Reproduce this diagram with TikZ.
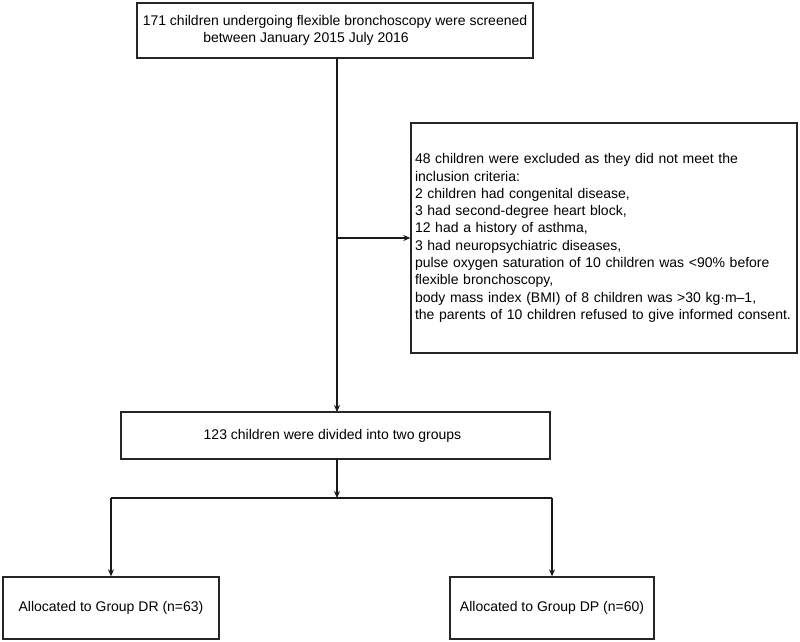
\documentclass[tikz,border=0pt]{standalone}
\usepackage{fontspec}
\setmainfont{Liberation Sans}
\usetikzlibrary{arrows.meta}
\begin{document}
\begin{tikzpicture}[x=1pt,y=-1pt,
  box/.style={draw=black!85,line width=1.3pt,inner sep=0pt,align=center,
    font=\fontsize{14}{17.3}\selectfont},
  conn/.style={draw=black!90,line width=1.2pt},
  arr/.style={conn,-{Stealth[length=7pt,width=6pt]}}]
\useasboundingbox (0,0) rectangle (800,642);
\node[box,minimum width=396pt,minimum height=55pt] (screen) at (335,30.5)
  {171 children undergoing flexible bronchoscopy were screened\\between January 2015 July 2016\hspace*{58pt}};
\node[box,minimum width=386pt,minimum height=230pt,text width=378pt,inner xsep=4pt,align=left] (excl) at (604,238)
  {48 children were excluded as they did not meet the\\
   inclusion criteria:\\
   2 children had congenital disease,\\
   3 had second-degree heart block,\\
   12 had a history of asthma,\\
   3 had neuropsychiatric diseases,\\
   pulse oxygen saturation of 10 children was <90\% before\\
   flexible bronchoscopy,\\
   body mass index (BMI) of 8 children was >30 kg·m–1,\\
   the parents of 10 children refused to give informed consent.};
\node[box,minimum width=429pt,minimum height=47pt] (div) at (335.5,435.5)
  {123 children were divided into two groups\hspace*{6pt}};
\node[box,minimum width=216pt,minimum height=62pt] (dr) at (111,608)
  {Allocated to Group DR (n=63)};
\node[box,minimum width=204pt,minimum height=62pt] (dp) at (552,608)
  {Allocated to Group DP (n=60)};
\coordinate (s0) at (337,58);
\coordinate (s1) at (337,412);
\coordinate (br) at (337,238);
\coordinate (j0) at (337,459);
\coordinate (j1) at (337,498);
\coordinate (jl) at (111,498);
\coordinate (jr) at (552,498);
\draw[arr] (s0) -- (s1);
\draw[arr] (br) -- (excl.west |- br);
\draw[arr] (j0) -- (j1);
\draw[conn] (jl) -- (jr);
\draw[arr] (jl) -- (dr.north);
\draw[arr] (jr) -- (dp.north);
\end{tikzpicture}
\end{document}
